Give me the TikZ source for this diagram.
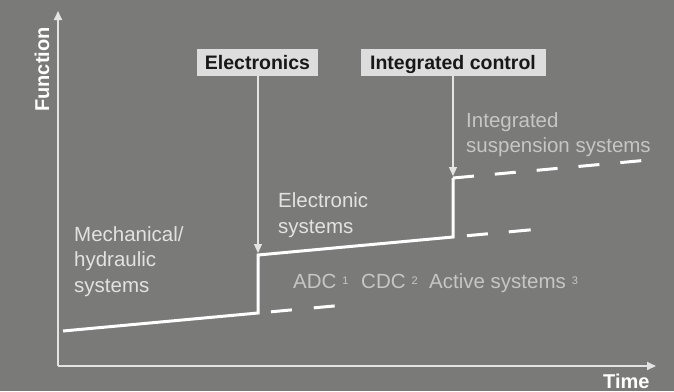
\documentclass[tikz,border=0pt]{standalone}
\usepackage{fontspec}
\setmainfont{Liberation Sans}
\usetikzlibrary{arrows.meta}

\definecolor{bggray}{RGB}{122,122,121}
\definecolor{axisgray}{RGB}{228,228,228}
\definecolor{labelhi}{RGB}{226,226,226}
\definecolor{labellow}{RGB}{198,198,198}
\definecolor{boxfill}{RGB}{221,221,221}
\definecolor{boxtext}{RGB}{24,24,24}

\tikzset{
  axisline/.style={draw=axisgray, line width=1.8pt, -{Triangle[width=8pt,length=9pt]}},
  axislabel/.style={text=white, font=\fontsize{20}{24}\selectfont\bfseries, inner sep=0pt},
  stagebox/.style={fill=boxfill, text=boxtext, font=\fontsize{19.5}{23}\selectfont\bfseries,
    inner sep=0pt, minimum height=27pt, text height=14pt, text depth=1pt},
  pointer/.style={draw=axisgray, line width=1.1pt, -{Triangle[width=8pt,length=9pt]}},
  curve/.style={draw=white, line width=3pt},
  trend/.style={draw=white, line width=3pt},
  % multi-line labels are placed by the baseline of their last line
  brightlabel/.style={text=labelhi, font=\fontsize{20.5}{25.5}\selectfont, align=left, inner sep=0pt, anchor=base west},
  dimlabel/.style={text=labellow, font=\fontsize{20.5}{25}\selectfont, align=left, inner sep=0pt, anchor=base west},
  supnum/.style={text=labellow, font=\fontsize{11}{12}\selectfont, inner sep=0pt, anchor=base west}
}

\begin{document}
\begin{tikzpicture}[x=1pt,y=-1pt]
  % canvas
  \fill[bggray] (0,0) rectangle (674,391);
  \useasboundingbox (0,0) rectangle (674,391);

  % axes
  \coordinate (origin) at (58,366);
  \coordinate (ytip) at (58,11);
  \coordinate (xtip) at (656,366);
  \draw[axisline] (origin) -- (ytip);
  \draw[axisline] (origin) -- (xtip);
  \node[axislabel, rotate=90, anchor=base] (function) at (49,69.5) {Function};
  \node[axislabel, anchor=base west] (time) at (603,388) {Time};

  % development curve corners
  \coordinate (start) at (63,331);
  \coordinate (stepAlow) at (258,313);
  \coordinate (stepAhigh) at (258,255);
  \coordinate (stepBlow) at (453,237);
  \coordinate (stepBhigh) at (453,178);
  \coordinate (endA) at (335,305.9);
  \coordinate (endB) at (531,229.8);
  \coordinate (endC) at (642,160.6);

  \draw[curve, line join=miter] (start) -- (stepAlow) -- (stepAhigh) -- (stepBlow) -- (stepBhigh);
  \draw[trend, dash pattern=on 21pt off 21pt] (stepBhigh) -- (endC);
  \draw[trend, dash pattern=on 0pt off 13pt on 21pt off 22pt on 21pt off 40pt] (stepAlow) -- (endA);
  \draw[trend, dash pattern=on 0pt off 14pt on 21pt off 21pt on 22pt off 40pt] (stepBlow) -- (endB);

  % stage markers
  \node[stagebox, minimum width=121pt] (electronics) at (257.5,62.5) {Electronics};
  \node[stagebox, minimum width=185pt] (integrated) at (453,62.5) {Integrated control};
  \draw[pointer, shorten >=2pt] (electronics.south -| stepAhigh) -- (stepAhigh);
  \draw[pointer, shorten >=2pt] (integrated.south -| stepBhigh) -- (stepBhigh);

  % phase labels
  \node[brightlabel] (mech) at (74,292) {Mechanical/\\hydraulic\\systems};
  \node[brightlabel] (elsys) at (278,233) {Electronic\\systems};
  \node[dimlabel] (iss) at (466,152) {Integrated\\suspension systems};

  % examples of electronic systems, each with its footnote number
  \node[dimlabel] (adc) at (293,288) {ADC};
  \node[dimlabel] (cdc) at (361,288) {CDC};
  \node[dimlabel] (active) at (429,288) {Active systems};
  \node[supnum] (adcnote) at ([xshift=5.5pt,yshift=4pt]adc.base east) {1};
  \node[supnum] (cdcnote) at ([xshift=5.5pt,yshift=4pt]cdc.base east) {2};
  \node[supnum] (activenote) at ([xshift=5.5pt,yshift=4pt]active.base east) {3};
\end{tikzpicture}
\end{document}
